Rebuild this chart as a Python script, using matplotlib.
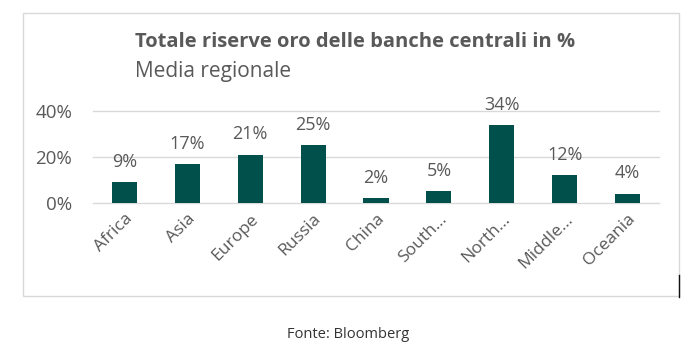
import matplotlib
matplotlib.use("Agg")
import matplotlib.pyplot as plt
from matplotlib.patches import Rectangle
from matplotlib.lines import Line2D

regions = ["Africa", "Asia", "Europe", "Russia", "China", "South...", "North...", "Middle...", "Oceania"]
shares = [9, 17, 21, 25, 2, 5, 34, 12, 4]
share_labels = ["9%", "17%", "21%", "25%", "2%", "5%", "34%", "12%", "4%"]
y_ticks = [0, 20, 40]
y_tick_labels = ["0%", "20%", "40%"]

BAR = "#02504c"
TEXT = "#595959"
GRID = "#d9d9d9"

plt.rcParams["font.family"] = ["Open Sans", "DejaVu Sans"]

fig = plt.figure(figsize=(6.97, 3.5), dpi=100)

# outer frame
fig.patches.append(Rectangle((23 / 697, 1 - 296 / 350), (679 - 23) / 697, (296 - 13) / 350,
                             transform=fig.transFigure, fill=False, edgecolor=GRID, linewidth=1))
fig.lines.append(Line2D([679 / 697, 679 / 697], [1 - 275 / 350, 1 - 297 / 350],
                        transform=fig.transFigure, color="#111111", linewidth=1))

ax = fig.add_axes([93 / 697, 1 - 202.7 / 350, 566 / 697, 91.7 / 350])
x = list(range(len(regions)))
ax.bar(x, shares, width=0.4, color=BAR, zorder=3)
for xi, v, lab in zip(x, shares, share_labels):
    ax.annotate(lab, (xi, v), xytext=(0, 8), textcoords="offset points",
                ha="center", va="bottom", fontsize=13, color=TEXT, clip_on=False)

ax.set_xlim(-0.5, len(regions) - 0.5)
ax.set_ylim(0, 40)
ax.set_yticks(y_ticks)
ax.set_yticklabels(y_tick_labels, fontsize=13.5, color=TEXT)
ax.set_xticks(x)
ax.set_xticklabels(regions, rotation=45, ha="right", rotation_mode="anchor",
                   fontsize=12.5, color=TEXT)
ax.tick_params(axis="both", length=0)
ax.tick_params(axis="y", pad=15)
ax.tick_params(axis="x", pad=6)
ax.grid(axis="y", color=GRID, linewidth=1, zorder=0)
for gl in ax.get_ygridlines():
    gl.set_clip_on(False)
for s in ax.spines.values():
    s.set_visible(False)

fig.text(135 / 697, 1 - 42 / 350, "Totale riserve oro delle banche centrali in %",
         fontsize=14.5, fontweight="bold", color=TEXT, va="center", ha="left")
fig.text(135 / 697, 1 - 72 / 350, "Media regionale",
         fontsize=15, color=TEXT, va="center", ha="left")
fig.text(348 / 697, 1 - 334 / 350, "Fonte: Bloomberg",
         fontsize=10.5, color="#333333", va="center", ha="center")

fig.savefig("out.png", dpi=100)
